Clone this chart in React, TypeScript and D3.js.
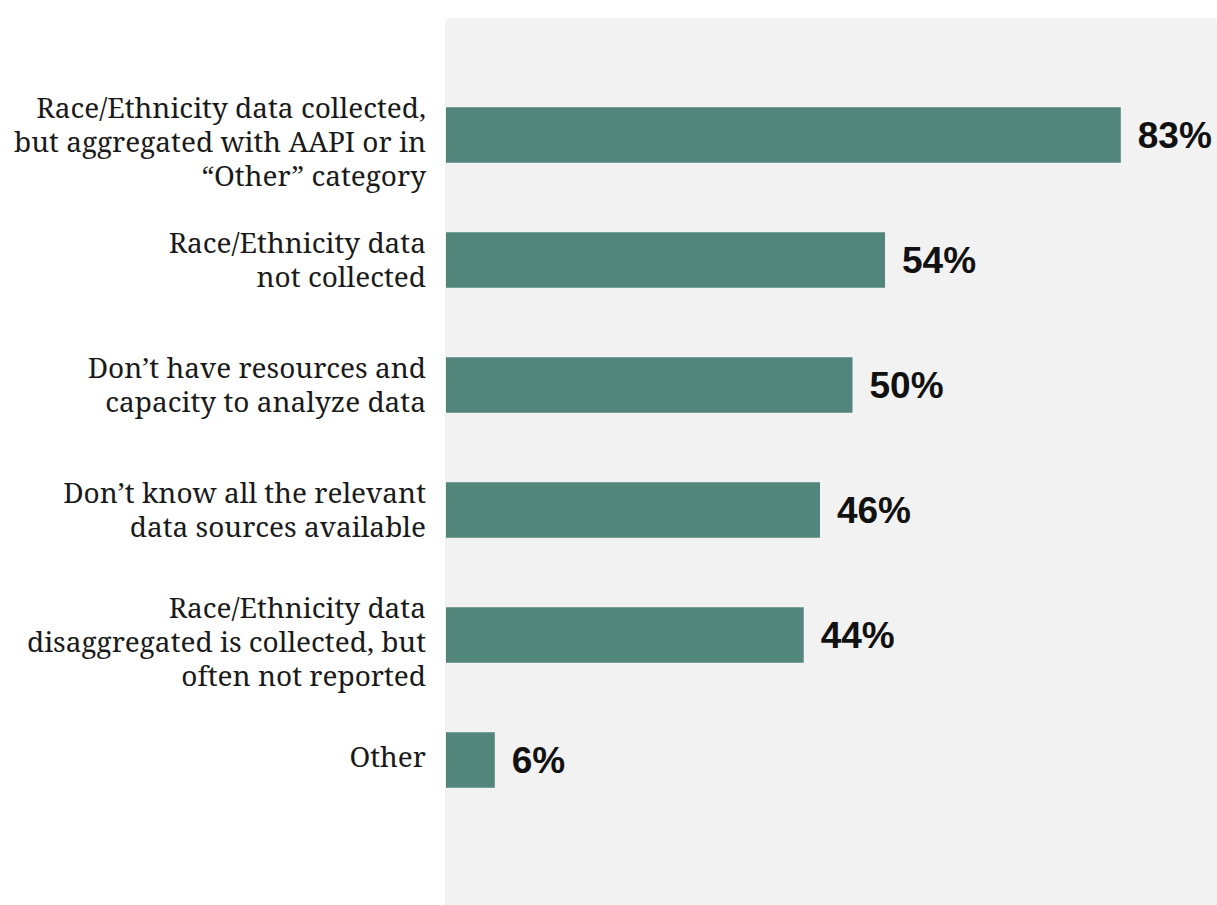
import React, { useEffect, useRef } from "react";
import * as d3 from "d3";

const categories: string[][] = [
  ["Race/Ethnicity data collected,", "but aggregated with AAPI or in", "\u201COther\u201D category"],
  ["Race/Ethnicity data", "not collected"],
  ["Don\u2019t have resources and", "capacity to analyze data"],
  ["Don\u2019t know all the relevant", "data sources available"],
  ["Race/Ethnicity data", "disaggregated is collected, but", "often not reported"],
  ["Other"],
];
const values: number[] = [83, 54, 50, 46, 44, 6];
const valueLabels: string[] = ["83%", "54%", "50%", "46%", "44%", "6%"];

const W = 1217;
const H = 905;
const BAR = "#52867a";
const PANEL = "#f2f2f2";

export default function App() {
  const ref = useRef<SVGSVGElement | null>(null);

  useEffect(() => {
    const svg = d3.select(ref.current);
    svg.selectAll("*").remove();

    const x = d3.scaleLinear().domain([0, 100]).range([446, 1259]);
    const idx = categories.map((_, i) => String(i));
    const y = d3
      .scaleBand<string>()
      .domain(idx)
      .range([72.5, 822.5])
      .paddingInner(0.556)
      .paddingOuter(0.278);

    svg
      .append("rect")
      .attr("x", 445)
      .attr("y", 18)
      .attr("width", W - 445 + 10)
      .attr("height", H - 18 + 10)
      .attr("rx", 6)
      .attr("fill", PANEL);

    const g = svg.append("g");
    g.selectAll("rect.bar")
      .data(values)
      .join("rect")
      .attr("class", "bar")
      .attr("x", x(0))
      .attr("y", (_, i) => y(String(i))!)
      .attr("width", (d) => x(d) - x(0))
      .attr("height", y.bandwidth())
      .attr("fill", BAR);

    g.selectAll("text.val")
      .data(values)
      .join("text")
      .attr("class", "val")
      .attr("x", (d) => x(d) + 17)
      .attr("y", (_, i) => y(String(i))! + y.bandwidth() / 2 + 13)
      .attr("font-family", "'Liberation Sans', Arial, sans-serif")
      .attr("font-weight", "bold")
      .attr("font-size", 37)
      .attr("fill", "#111")
      .text((_, i) => valueLabels[i]);

    const firstOffset: Record<number, number> = { 1: 6.5, 2: -7.5, 3: -17 };
    const lineH = 34;
    const labels = g
      .selectAll("text.cat")
      .data(categories)
      .join("text")
      .attr("class", "cat")
      .attr("text-anchor", "end")
      .attr("font-family", "'Noto Serif', 'DejaVu Serif Condensed', 'DejaVu Serif', serif")
      .attr("font-size", 28)
      .attr("fill", "#1a1a1a")
      .attr("x", 426)
      .attr("y", (d, i) => y(String(i))! + y.bandwidth() / 2 + firstOffset[d.length]);

    labels
      .selectAll("tspan")
      .data((d) => d)
      .join("tspan")
      .attr("x", 426)
      .attr("dy", (_, j) => (j === 0 ? 0 : lineH))
      .text((t) => t);
  }, []);

  return (
    <svg
      ref={ref}
      width={W}
      height={H}
      style={{ position: "absolute", left: 0, top: 0, background: "#fff" }}
    />
  );
}
